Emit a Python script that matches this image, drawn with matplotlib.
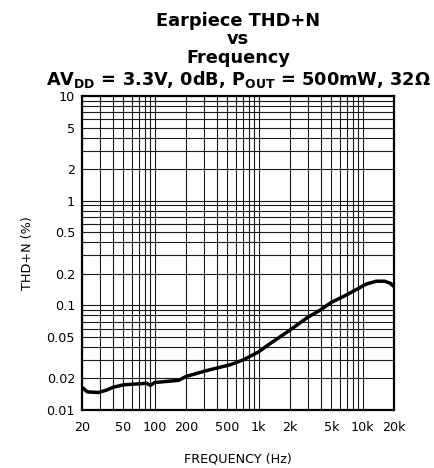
import numpy as np
import matplotlib
matplotlib.use('Agg')
import matplotlib.pyplot as plt
from matplotlib.ticker import FixedLocator, NullFormatter

plt.rcParams['font.family'] = ['DejaVu Sans']
plt.rcParams['mathtext.fontset'] = 'dejavusans'

# curve
freq = [20, 22.5, 28.7, 34.5, 40, 50, 65, 83.5, 91, 100, 150, 170, 200,
        315, 528, 709, 988, 1279, 1919, 2986, 3867, 5002, 6970, 9018,
        10860, 13540, 16300, 18500, 20000]
thdn = [0.0165, 0.0149, 0.0147, 0.0155, 0.0165, 0.0174, 0.0177, 0.018, 0.0172,
        0.0183, 0.019, 0.0192, 0.0209, 0.0238, 0.027, 0.0301, 0.0357, 0.0429,
        0.0564, 0.0773, 0.0896, 0.1069, 0.1256, 0.1445, 0.160, 0.170, 0.170,
        0.162, 0.151]

xticks = [20, 50, 100, 200, 500, 1000, 2000, 5000, 10000, 20000]
xlabels = ['20', '50', '100', '200', '500', '1k', '2k', '5k', '10k', '20k']
yticks = [0.01, 0.02, 0.05, 0.1, 0.2, 0.5, 1, 2, 5, 10]
ylabels = ['0.01', '0.02', '0.05', '0.1', '0.2', '0.5', '1', '2', '5', '10']

fig = plt.figure(figsize=(4.35, 4.68), dpi=100)
ax = fig.add_axes([82/435, 1-410/468, 312/435, 314/468])

ax.set_xscale('log')
ax.set_yscale('log')
ax.set_xlim(20, 20000)
ax.set_ylim(0.01, 10)

# log grid on every 1..9 step
gx = [m * 10**e for e in range(1, 5) for m in range(1, 10)]
gx = [v for v in gx if 20 <= v <= 20000]
gy = [m * 10**e for e in range(-2, 2) for m in range(1, 10)]
gy = [v for v in gy if 0.01 <= v <= 10]
for v in gx:
    ax.axvline(v, color='#1a1a1a', lw=0.8, zorder=1)
for v in gy:
    ax.axhline(v, color='#1a1a1a', lw=0.8, zorder=1)

ax.plot(freq, thdn, color='black', lw=2.5, zorder=3, solid_capstyle='round')

ax.xaxis.set_major_locator(FixedLocator(xticks))
ax.set_xticklabels(xlabels)
ax.yaxis.set_major_locator(FixedLocator(yticks))
ax.set_yticklabels(ylabels)
ax.xaxis.set_minor_formatter(NullFormatter())
ax.yaxis.set_minor_formatter(NullFormatter())
ax.tick_params(which='both', length=0, labelsize=9.2)
ax.tick_params(axis='x', pad=8)
ax.tick_params(axis='y', pad=5)

for s in ax.spines.values():
    s.set_linewidth(1.6)
    s.set_zorder(4)

ax.set_xlabel('FREQUENCY (Hz)', fontsize=9.2, labelpad=13)
ax.set_ylabel('THD+N (%)', fontsize=9.2, labelpad=9)

cx = 238 / 435
tkw = dict(ha='center', va='center', fontsize=12.8, fontweight='bold')
fig.text(cx, 1 - 21/468, 'Earpiece THD+N', **tkw)
fig.text(cx, 1 - 39/468, 'vs', **tkw)
fig.text(cx, 1 - 58/468, 'Frequency', **tkw)
fig.text(cx, 1 - 80/468,
         r'$\mathbf{AV_{DD}}$ = 3.3V, 0dB, $\mathbf{P_{OUT}}$ = 500mW, 32Ω',
         **tkw)

fig.savefig('out.png', dpi=100)
